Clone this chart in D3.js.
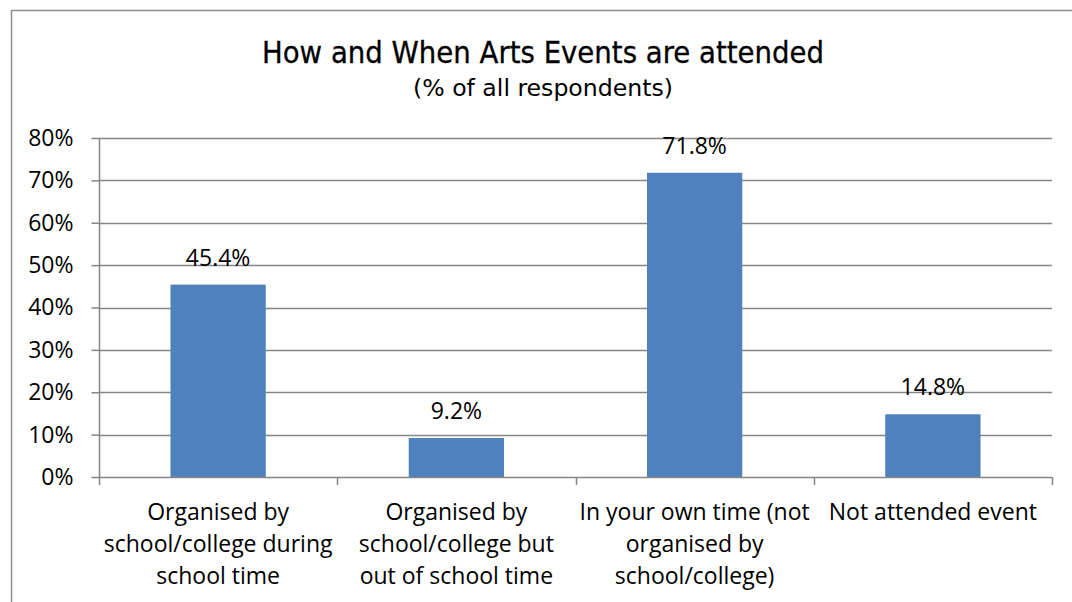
<!DOCTYPE html>
<html>
<head>
<meta charset="utf-8">
<script src="https://cdn.jsdelivr.net/npm/d3@7"></script>
<style>
  html, body { margin: 0; padding: 0; background: #fff; }
  svg { display: block; }
</style>
</head>
<body>
<svg id="chart" width="1072" height="602"></svg>
<script>
// Survey results: how and when arts events are attended
const categories = [
  ["Organised by", "school/college during", "school time"],
  ["Organised by", "school/college but", "out of school time"],
  ["In your own time (not", "organised by", "school/college)"],
  ["Not attended event"]
];
const values = [45.4, 9.2, 71.8, 14.8];
const yTicks = [0, 10, 20, 30, 40, 50, 60, 70, 80];
const titleText = "How and When Arts Events are attended";
const subtitleText = "(% of all respondents)";

const W = 1072, H = 602;
const margin = { left: 99, top: 138 };
const plotW = 953, plotH = 339;

const svg = d3.select("#chart");
const bodyFont = "'Open Sans', Lato, sans-serif";
const bodySize = 23;
const gridColor = "#868686";

// Outer chart frame
svg.append("path")
  .attr("d", `M11.5,${H + 2} L11.5,10.5 L${W + 2},10.5`)
  .attr("fill", "none")
  .attr("stroke", "#8e8e8e")
  .attr("stroke-width", 1.5);

// Titles
svg.append("text")
  .attr("x", 543).attr("y", 63)
  .attr("text-anchor", "middle")
  .attr("font-family", "'DejaVu Sans Condensed', 'Liberation Sans Narrow', sans-serif")
  .attr("font-size", 31)
  .attr("textLength", 562)
  .attr("lengthAdjust", "spacingAndGlyphs")
  .attr("fill", "#000")
  .attr("stroke", "#000")
  .attr("stroke-width", 0.3)
  .text(titleText);

svg.append("text")
  .attr("x", 543).attr("y", 96)
  .attr("text-anchor", "middle")
  .attr("font-family", "'DejaVu Sans Condensed', 'Liberation Sans Narrow', sans-serif")
  .attr("font-size", 23)
  .attr("textLength", 260)
  .attr("lengthAdjust", "spacingAndGlyphs")
  .attr("fill", "#000")
  .text(subtitleText);

const x = d3.scaleBand()
  .domain(d3.range(categories.length))
  .range([margin.left, margin.left + plotW])
  .paddingInner(0.6)
  .paddingOuter(0.3);

const y = d3.scaleLinear()
  .domain([0, 80])
  .range([margin.top + plotH, margin.top]);

// Horizontal gridlines
svg.append("g")
  .selectAll("line")
  .data(yTicks.filter(d => d > 0))
  .join("line")
  .attr("x1", margin.left).attr("x2", margin.left + plotW)
  .attr("y1", d => Math.round(y(d)) + 0.5)
  .attr("y2", d => Math.round(y(d)) + 0.5)
  .attr("stroke", gridColor)
  .attr("stroke-width", 1.5);

// Y axis
const yAxis = d3.axisLeft(y)
  .tickValues(yTicks)
  .tickFormat(d => d + "%")
  .tickSize(8)
  .tickPadding(18);

const gy = svg.append("g")
  .attr("transform", `translate(${margin.left + 0.5},0)`)
  .call(yAxis);
gy.select(".domain").attr("stroke", gridColor).attr("stroke-width", 1.5)
  .attr("d", `M0,${y(80)}V${y(0)}`);
gy.selectAll(".tick line").attr("stroke", gridColor).attr("stroke-width", 1.5);
gy.selectAll(".tick text")
  .attr("font-family", bodyFont)
  .attr("font-size", bodySize)
  .attr("fill", "#000");

// Bars
svg.append("g")
  .selectAll("rect")
  .data(values)
  .join("rect")
  .attr("x", (d, i) => x(i))
  .attr("y", d => y(d))
  .attr("width", x.bandwidth())
  .attr("height", d => y(0) - y(d))
  .attr("fill", "#4F81BD");

// Value labels
svg.append("g")
  .selectAll("text")
  .data(values)
  .join("text")
  .attr("x", (d, i) => x(i) + x.bandwidth() / 2)
  .attr("y", d => y(d) - 19)
  .attr("text-anchor", "middle")
  .attr("font-family", bodyFont)
  .attr("font-size", bodySize)
  .attr("fill", "#000")
  .text(d => d.toFixed(1) + "%");

// X axis line with category boundary ticks
const step = plotW / categories.length;
const xAxisG = svg.append("g");
xAxisG.append("line")
  .attr("x1", margin.left).attr("x2", margin.left + plotW)
  .attr("y1", y(0) + 0.5).attr("y2", y(0) + 0.5)
  .attr("stroke", gridColor).attr("stroke-width", 1.5);
xAxisG.selectAll("line.tick")
  .data(d3.range(categories.length + 1))
  .join("line")
  .attr("class", "tick")
  .attr("x1", i => Math.round(margin.left + i * step) + 0.5)
  .attr("x2", i => Math.round(margin.left + i * step) + 0.5)
  .attr("y1", y(0)).attr("y2", y(0) + 8)
  .attr("stroke", gridColor).attr("stroke-width", 1.5);

// Category labels
const catG = svg.append("g")
  .selectAll("text")
  .data(categories)
  .join("text")
  .attr("x", (d, i) => x(i) + x.bandwidth() / 2)
  .attr("y", 520)
  .attr("text-anchor", "middle")
  .attr("font-family", bodyFont)
  .attr("font-size", bodySize)
  .attr("fill", "#000");
catG.selectAll("tspan")
  .data(d => d)
  .join("tspan")
  .attr("x", function () { return d3.select(this.parentNode).attr("x"); })
  .attr("dy", (d, i) => i === 0 ? 0 : 32)
  .text(d => d);
</script>
</body>
</html>
